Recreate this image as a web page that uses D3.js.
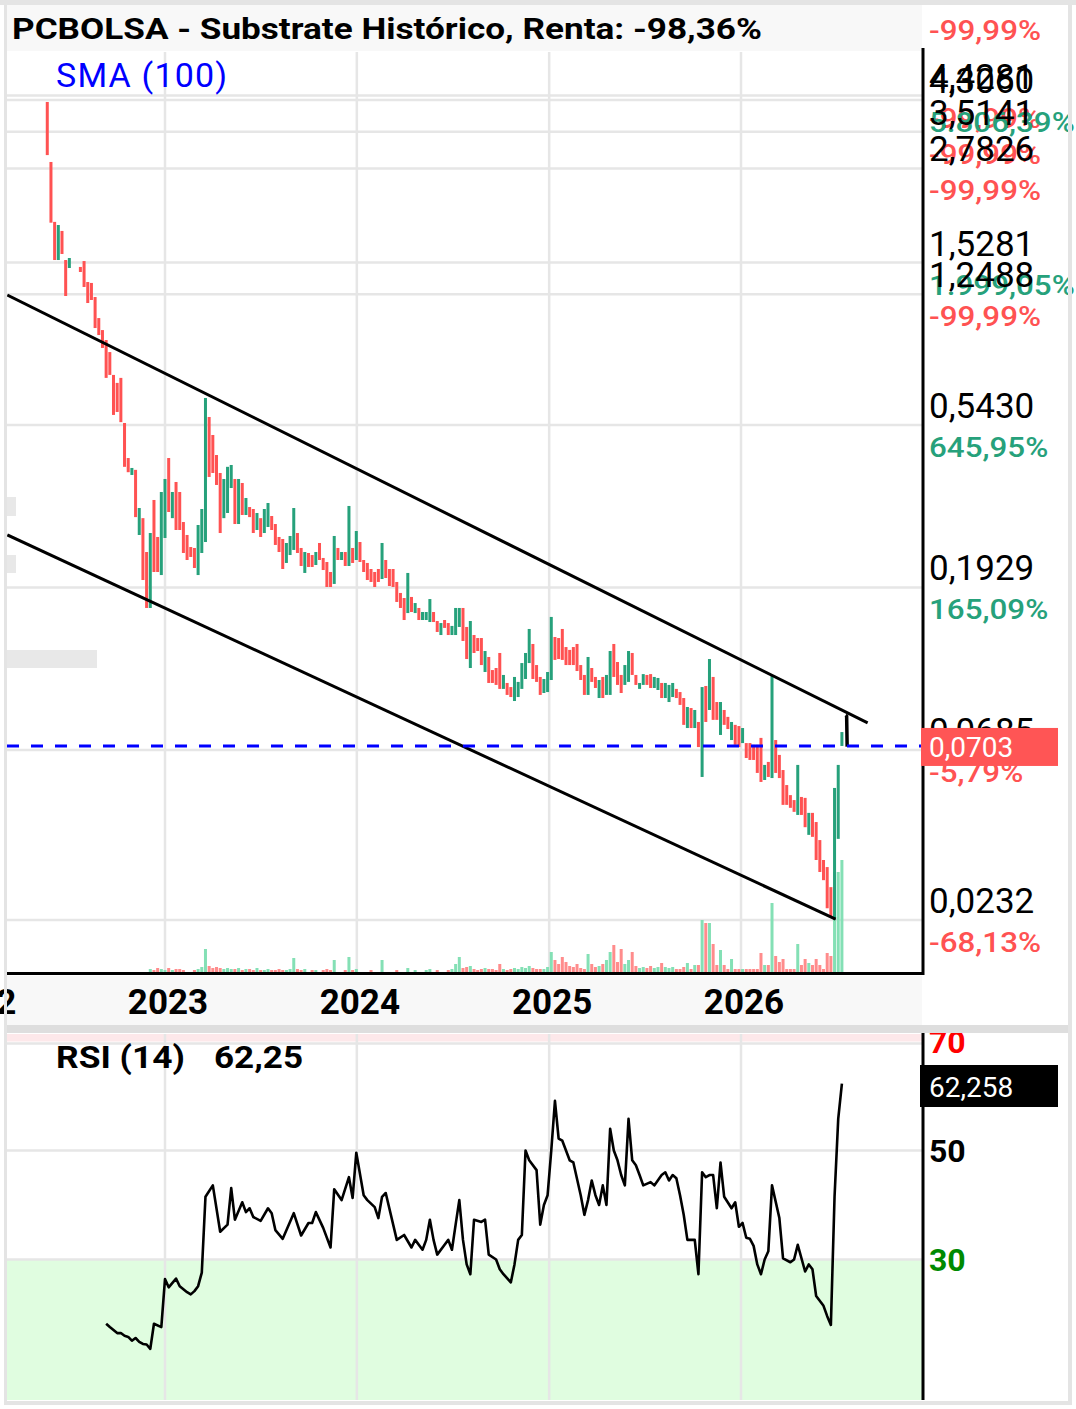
<!DOCTYPE html>
<html>
<head>
<meta charset="utf-8">
<script src="https://cdn.jsdelivr.net/npm/d3@7"></script>
<style>
  body { margin: 0; background: #fff; }
  svg { display: block; }
  text { font-family: Roboto, "Noto Sans", sans-serif; }
</style>
</head>
<body>
<svg id="chart" width="1076" height="1409"></svg>
<script>
// ---- data (weekly candles) ----
const startWeek = "2022-05-22";

const opens = [4.25,2.90,1.98,1.553,1.869,1.553,1.476,null,null,1.486,
  1.543,1.350,1.342,1.227,1.073,0.994,0.933,0.864,0.747,0.710,
  0.733,0.550,0.440,0.395,0.408,0.2695,0.300,0.2418,0.1693,0.3368,
  0.2661,0.2088,0.2644,0.440,0.300,0.3777,0.3544,0.2927,0.2695,0.2496,
  0.2481,0.2088,0.2403,0.2577,0.5714,0.5095,0.4485,0.400,0.300,0.310,
  0.3635,0.385,0.289,0.3753,0.3061,0.322,0.318,0.2782,0.300,0.2729,
  0.2836,0.3041,0.289,0.2661,0.2627,0.2255,0.2372,0.245,0.2729,0.2481,
  0.2116,0.2403,0.2372,0.2226,0.2561,0.2328,0.2269,0.2129,0.1973,0.2481,
  0.2298,0.2418,0.2212,0.2481,0.2298,0.2577,0.2298,0.2255,0.217,0.2129,
  0.217,0.2036,0.2298,0.217,0.217,0.1998,0.1863,0.1804,0.1639,0.1816,
  0.1639,0.1693,0.1568,0.1568,0.1548,0.165,0.1558,0.1425,0.1568,0.1538,
  0.1425,0.1425,0.150,0.1693,0.150,0.1155,0.1425,0.1398,0.1398,0.1126,
  0.1239,0.114,0.1155,0.1271,0.1011,0.105,0.1023,0.0936,0.096,0.1011,
  0.1077,0.1192,0.1346,0.1177,0.1091,0.0985,0.0991,0.107,0.1407,0.1398,
  0.1481,0.132,0.1296,0.132,0.1346,0.1177,0.1105,0.0973,0.1155,0.1091,
  0.0954,0.1091,0.0973,0.0973,0.1346,0.120,0.1105,0.1037,0.1057,0.1271,
  0.1105,0.1011,0.1037,0.1105,0.1111,0.1017,0.1004,0.105,0.0954,0.093,
  0.096,0.1011,0.0991,0.0954,0.0788,0.0895,0.0788,0.0819,0.0577,0.103,
  0.0884,0.1091,0.093,0.0754,0.0884,0.0846,0.073,0.0804,0.0798,0.0716,
  0.0716,0.0716,0.0708,0.0708,0.074,0.0566,0.0635,0.0573,0.073,0.0664,
  0.0603,0.0548,0.0514,0.0498,0.0453,0.0508,0.0505,0.0399,0.0459,0.0433,
  0.0386,0.034,0.0325,0.0286,0.0232,0.0389,0.0703];

const closes = [3.03,1.97,1.553,1.941,1.614,1.235,1.573,null,null,1.439,
  1.308,1.181,1.204,1.007,0.963,0.887,0.733,0.747,0.579,0.590,
  0.553,0.416,0.402,0.413,0.302,0.320,0.2023,0.1693,0.2729,0.2129,
  0.2129,0.3544,0.385,0.312,0.3544,0.2782,0.2782,0.2403,0.2298,0.2343,
  0.2184,0.2872,0.318,0.645,0.390,0.400,0.3706,0.2729,0.385,0.416,
  0.4209,0.289,0.385,0.3061,0.3411,0.302,0.2729,0.310,0.2661,0.318,
  0.3304,0.2782,0.2529,0.2418,0.217,0.2561,0.2678,0.320,0.2403,0.2212,
  0.2418,0.2198,0.2198,0.2418,0.2298,0.2156,0.1935,0.1935,0.2678,0.2298,
  0.2418,0.2212,0.3242,0.2255,0.2764,0.2269,0.2129,0.2023,0.1998,0.1935,
  0.1998,0.2561,0.2049,0.1947,0.1935,0.1759,0.1693,0.1568,0.2116,0.165,
  0.1747,0.1568,0.165,0.165,0.1792,0.1548,0.1453,0.1538,0.1491,0.1425,
  0.151,0.1693,0.1693,0.1372,0.1223,0.1558,0.1271,0.1287,0.1177,0.1287,
  0.105,0.105,0.1037,0.1011,0.1105,0.0973,0.096,0.1091,0.1057,0.1192,
  0.1271,0.1481,0.1077,0.1057,0.0973,0.1077,0.1126,0.1599,0.1216,0.1223,
  0.1216,0.1177,0.1177,0.1177,0.1133,0.107,0.0973,0.1239,0.1057,0.1017,
  0.107,0.0954,0.1105,0.1287,0.1091,0.1037,0.0985,0.1177,0.1287,0.1105,
  0.1037,0.105,0.1111,0.1037,0.1017,0.1091,0.1084,0.0954,0.105,0.1037,
  0.105,0.0954,0.0913,0.0804,0.0901,0.0788,0.0884,0.0698,0.1023,0.0819,
  0.1223,0.083,0.083,0.093,0.0804,0.0783,0.0819,0.0708,0.0698,0.0788,
  0.0651,0.0643,0.0643,0.0592,0.0559,0.0623,0.0577,0.1105,0.0592,0.0573,
  0.0483,0.0483,0.0474,0.0462,0.0623,0.0453,0.0419,0.0459,0.0394,0.034,
  0.0315,0.0299,0.025,0.0237,0.0538,0.0623,0.0768];

const volumes = [0,0,0,0,0,0,0,0,0,0,
  0,0,0,0,0,0,0,0,0,0,
  0,0,0,0,0,0,0,0,3,2,
  4,3,2,4,2,3,3,2,0,0,
  2,3,5,23,6,4,5,4,3,4,
  3,3,4,2,3,3,2,4,2,2,
  3,2,2,3,2,2,3,14,3,2,
  3,0,2,2,0,2,3,2,12,0,
  0,2,15,2,3,0,0,0,2,0,
  0,12,0,0,0,2,0,0,4,0,
  2,0,0,2,3,0,2,0,0,2,
  3,8,15,4,5,6,3,2,3,4,
  3,3,2,8,3,2,3,4,3,5,
  4,6,4,3,3,3,5,20,12,8,
  15,10,6,5,8,4,3,18,8,5,
  6,8,12,20,27,10,23,8,12,20,
  6,4,5,4,6,4,5,9,5,4,
  5,3,3,5,9,3,7,7,52,49,
  49,28,7,22,7,3,13,3,3,3,
  3,3,3,3,19,7,7,69,16,10,
  13,3,3,3,28,7,13,9,7,13,
  7,3,19,16,100,100,112];

// RSI (14): [week index, value]
const rsiPoints = [[16,18.2],[17,17.6],[19,16.5],[20,16.5],[21,16.0],[22,15.8],[23,15.1],[24,15.6],
  [25,14.9],[26,14.5],[27,14.4],[28,13.6],[29,18.2],[31,17.6],[32,26.4],[33,24.9],[35,26.5],[36,25.1],
  [38,24.0],[39,23.6],[40,24.2],[41,25.1],[42,27.6],[43,41.5],[45,43.6],[47,35.1],[49,36.4],[50,43.1],
  [51,37.3],[53,40.5],[54,38.7],[55,39.4],[56,37.8],[58,37.1],[60,39.4],[61,38.5],[62,35.4],[64,33.8],
  [67,38.5],[69,34.4],[71,36.7],[72,36.7],[73,38.7],[75,35.8],[77,32.2],[78,42.9],[80,40.9],[82,45.1],
  [83,41.3],[84,49.6],[86,41.8],[87,40.9],[89,39.6],[90,37.6],[91,41.5],[92,42.2],[95,33.6],[97,34.5],
  [99,32.2],[100,33.6],[102,31.8],[103,33.6],[104,37.3],[105,33.6],[106,30.9],[108,32.7],[109,33.6],
  [110,31.8],[111,36.4],[112,40.9],[113,33.6],[114,29.1],[115,27.3],[116,37.3],[118,36.9],[119,37.3],
  [120,30.9],[122,30.0],[123,28.2],[124,27.3],[126,25.8],[127,29.1],[128,33.6],[129,34.5],[130,50.0],
  [131,48.2],[133,46.4],[134,36.4],[135,40.0],[136,41.8],[137,50.0],[138,59.1],[139,52.2],[140,51.8],
  [141,50.0],[142,48.2],[143,47.8],[145,41.8],[146,38.2],[147,40.9],[148,44.5],[149,41.8],[150,40.0],
  [151,43.6],[152,40.0],[153,54.0],[154,50.0],[155,48.2],[156,45.5],[157,43.6],[158,55.8],[159,48.2],
  [160,47.3],[161,45.5],[162,43.6],[164,44.2],[165,43.6],[167,45.5],[168,46.0],[169,44.5],[170,45.5],
  [171,44.9],[172,41.8],[173,38.2],[174,33.6],[175,33.6],[176,33.6],[177,27.3],[178,46.0],[179,45.1],
  [180,45.5],[181,45.5],[182,39.4],[183,47.8],[184,41.5],[186,39.4],[187,40.5],[188,36.0],[189,36.7],
  [190,34.0],[191,33.8],[192,32.5],[193,29.1],[194,27.3],[195,30.0],[196,31.5],[197,43.6],[199,37.6],
  [200,30.2],[202,29.5],[203,30.0],[204,32.7],[206,27.8],[207,29.1],[208,28.2],[209,23.3],[211,21.5],
  [212,19.6],[213,18.0],[214,41.5],[215,55.8],[216,62.25]];

const priceTicks = [4.4281, 4.3060, 3.5141, 2.7826, 1.5281, 1.2488, 0.5430, 0.1929, 0.0685, 0.0232];
const pctLabels = ["-99,99%", "5.806,39%", "-99,99%", "-99,99%", "1.999,05%", "-99,99%",
  "645,95%", "165,09%", "-5,79%", "-68,13%"];
const headerPct = "-99,99%";
const yearTicks = [2022, 2023, 2024, 2025, 2026];
const rsiTicks = [70, 50, 30];
const rsiTickColors = ["#ff0000", "#000000", "#008a00"];
const lastPrice = 0.0703;
const lastRsi = 62.258;
const rsiHeader = "62,25";

const upperTrend = [["2022-03-07", 1.243], ["2026-08-30", 0.0814]];
const lowerTrend = [["2022-03-07", 0.2695], ["2026-06-30", 0.02333]];
const breakMark = [["2026-07-19", 0.0855], ["2026-07-21", 0.0851], ["2026-07-22", 0.0700]];

const title = "PCBOLSA - Substrate Histórico, Renta: -98,36%";

// ---- layout ----
const svg = d3.select("#chart");
const L = 7, R = 922, T = 52, B = 972;
const RT = 1034, RB = 1400;
const day = 864e5;
const weekDate = i => new Date(Date.parse(startWeek) + i * 7 * day);
const green = "#26a17b", red = "#ff5252";
const gridColor = "#e6e6e6";
const comma = s => s.replace(".", ",");

const x = d3.scaleUtc()
  .domain([Date.UTC(2023, 0, 1), Date.UTC(2026, 0, 1)])
  .range([165, 741]);
const y = d3.scaleLog().domain([0.0232, 0.543]).range([920, 425]);
const vol = d3.scaleLinear().domain([0, d3.max(volumes)]).range([0, 112]);
const ry = d3.scaleLinear().domain([30, 50]).range([1259.5, 1150.5]);

function stretch(sel, k) {
  sel.each(function () {
    const w = this.getComputedTextLength();
    d3.select(this).attr("textLength", w * k).attr("lengthAdjust", "spacingAndGlyphs");
  });
}

const defs = svg.append("defs");
defs.append("clipPath").attr("id", "plot")
  .append("rect").attr("x", L).attr("y", T).attr("width", R - L).attr("height", B - T);
defs.append("clipPath").attr("id", "rsiClip")
  .append("rect").attr("x", L).attr("y", RT).attr("width", R - L).attr("height", RB - RT);

// title bar
svg.append("rect").attr("x", L).attr("y", 5).attr("width", R - L).attr("height", 46).attr("fill", "#f8f8f8");
svg.append("text").attr("x", 12).attr("y", 39)
  .attr("font-size", 29).attr("font-weight", "bold").attr("fill", "#000")
  .attr("textLength", 750).attr("lengthAdjust", "spacingAndGlyphs")
  .text(title);
stretch(svg.append("text").attr("x", 929).attr("y", 40)
  .attr("font-size", 28).attr("font-weight", 500).attr("fill", red).text(headerPct), 1.12);

// main grid
const main = svg.append("g").attr("clip-path", "url(#plot)");
main.selectAll(".hg").data(priceTicks).join("line")
  .attr("x1", L).attr("x2", R).attr("y1", d => y(d)).attr("y2", d => y(d))
  .attr("stroke", gridColor).attr("stroke-width", 2.5);
main.selectAll(".vg").data(yearTicks).join("line")
  .attr("x1", d => x(Date.UTC(d, 0, 1))).attr("x2", d => x(Date.UTC(d, 0, 1)))
  .attr("y1", T).attr("y2", B)
  .attr("stroke", gridColor).attr("stroke-width", 2.5);

// stray grey legend remnants on the left edge
main.append("rect").attr("x", L).attr("y", 497).attr("width", 9).attr("height", 19).attr("fill", "#e8e8e8");
main.append("rect").attr("x", L).attr("y", 555).attr("width", 9).attr("height", 18).attr("fill", "#e8e8e8");
main.append("rect").attr("x", L).attr("y", 650).attr("width", 90).attr("height", 18).attr("fill", "#e8e8e8");

const candles = opens.map((o, i) => ({ i, o, c: closes[i], v: volumes[i] })).filter(d => d.o != null);

// volume
main.selectAll(".vol").data(candles.filter(d => d.v > 0)).join("rect")
  .attr("x", d => x(weekDate(d.i)) - 1.5)
  .attr("width", 3)
  .attr("y", d => B - vol(d.v))
  .attr("height", d => vol(d.v))
  .attr("fill", d => d.c >= d.o ? "#84e0b5" : "#ff8c8c");

// candles
main.selectAll(".cdl").data(candles).join("rect")
  .attr("x", d => x(weekDate(d.i)) - 1.5)
  .attr("width", 3)
  .attr("y", d => y(Math.max(d.o, d.c)))
  .attr("height", d => Math.max(1.5, y(Math.min(d.o, d.c)) - y(Math.max(d.o, d.c))))
  .attr("fill", d => d.c >= d.o ? green : red);

// trend lines
const tl = d3.line().x(d => x(new Date(d[0]))).y(d => y(d[1]));
[upperTrend, lowerTrend].forEach(t => {
  main.append("path").attr("d", tl(t)).attr("fill", "none").attr("stroke", "#000").attr("stroke-width", 3);
});
main.append("path").attr("d", tl(breakMark)).attr("fill", "none")
  .attr("stroke", "#000").attr("stroke-width", 3.5).attr("stroke-linejoin", "round");

// last price line
main.append("line").attr("x1", L).attr("x2", R).attr("y1", y(lastPrice)).attr("y2", y(lastPrice))
  .attr("stroke", "#0000ff").attr("stroke-width", 3).attr("stroke-dasharray", "12,12");

// SMA legend
svg.append("text").attr("x", 56).attr("y", 87).attr("font-size", 34).attr("fill", "#0000ff")
  .attr("letter-spacing", 1.2).text("SMA (100)");

// axes lines
svg.append("line").attr("x1", 923).attr("x2", 923).attr("y1", 48).attr("y2", 975)
  .attr("stroke", "#000").attr("stroke-width", 3);
svg.append("line").attr("x1", L).attr("x2", 923).attr("y1", 973.5).attr("y2", 973.5)
  .attr("stroke", "#000").attr("stroke-width", 3);

// right price labels
priceTicks.forEach((t, i) => {
  const g = y(t);
  svg.append("text").attr("x", 929).attr("y", g - 7).attr("font-size", 35).attr("fill", "#000")
    .text(comma(d3.format(".4f")(t)));
  const p = svg.append("text").attr("x", 929).attr("y", g + 32).attr("font-size", 28).attr("font-weight", 500)
    .attr("fill", pctLabels[i].startsWith("-") ? red : green).text(pctLabels[i]);
  stretch(p, 1.12);
});

// last price box
svg.append("rect").attr("x", 921).attr("y", y(lastPrice) - 18).attr("width", 137).attr("height", 38)
  .attr("fill", "#ff5555");
svg.append("text").attr("x", 929).attr("y", y(lastPrice) + 11).attr("font-size", 28).attr("fill", "#fff")
  .text(comma(d3.format(".4f")(lastPrice)));

// x axis band
svg.append("rect").attr("x", L).attr("y", 976).attr("width", R - L).attr("height", 49).attr("fill", "#f8f8f8");
svg.selectAll(".yr").data(yearTicks).join("text")
  .attr("x", d => x(Date.UTC(d, 0, 1)) + 3).attr("y", 1014)
  .attr("text-anchor", "middle").attr("font-size", 35).attr("font-weight", "bold").attr("fill", "#000")
  .text(d => d);

// ---- RSI panel ----
const rsi = svg.append("g").attr("clip-path", "url(#rsiClip)");
rsi.append("rect").attr("x", L).attr("y", RT).attr("width", R - L).attr("height", ry(70) - RT).attr("fill", "#fde8ea");
rsi.append("rect").attr("x", L).attr("y", ry(30)).attr("width", R - L).attr("height", RB - ry(30)).attr("fill", "#e0fde0");
rsi.selectAll(".rg").data(rsiTicks).join("line")
  .attr("x1", L).attr("x2", R).attr("y1", d => ry(d) + (d === 70 ? 2 : 0)).attr("y2", d => ry(d) + (d === 70 ? 2 : 0))
  .attr("stroke", gridColor).attr("stroke-width", 2.5);
rsi.selectAll(".rv").data(yearTicks).join("line")
  .attr("x1", d => x(Date.UTC(d, 0, 1))).attr("x2", d => x(Date.UTC(d, 0, 1)))
  .attr("y1", RT).attr("y2", RB).attr("stroke", gridColor).attr("stroke-width", 2.5);
rsi.append("path")
  .attr("d", d3.line().x(d => x(weekDate(d[0]))).y(d => ry(d[1]))(rsiPoints))
  .attr("fill", "none").attr("stroke", "#000").attr("stroke-width", 2.6).attr("stroke-linejoin", "round");

svg.append("text").attr("x", 56).attr("y", 1068).attr("font-size", 32).attr("font-weight", "bold")
  .attr("textLength", 129).attr("lengthAdjust", "spacingAndGlyphs").text("RSI (14)");
svg.append("text").attr("x", 214).attr("y", 1068).attr("font-size", 32).attr("font-weight", "bold")
  .attr("textLength", 89).attr("lengthAdjust", "spacingAndGlyphs").text(rsiHeader);

svg.append("line").attr("x1", 923).attr("x2", 923).attr("y1", 1033).attr("y2", RB)
  .attr("stroke", "#000").attr("stroke-width", 3);
svg.selectAll(".rt").data(rsiTicks).join("text")
  .attr("x", 929).attr("y", d => ry(d) + 11).attr("font-size", 32).attr("font-weight", "bold")
  .attr("fill", (d, i) => rsiTickColors[i]).text(d => d);
svg.append("rect").attr("x", 920).attr("y", 1065).attr("width", 138).attr("height", 42).attr("fill", "#000");
svg.append("text").attr("x", 929).attr("y", 1097).attr("font-size", 28).attr("fill", "#fff")
  .text(comma(d3.format(".3f")(lastRsi)));

// separator between panels and frame
svg.append("rect").attr("x", 4).attr("y", 1025).attr("width", 1068).attr("height", 8).attr("fill", "#dedede");
svg.append("rect").attr("x", 0).attr("y", 0).attr("width", 1076).attr("height", 5).attr("fill", "#e4e4e4");
svg.append("rect").attr("x", 4).attr("y", 0).attr("width", 3).attr("height", 1405).attr("fill", "#e4e4e4");
svg.append("rect").attr("x", 1068).attr("y", 0).attr("width", 4).attr("height", 1405).attr("fill", "#e4e4e4");
svg.append("rect").attr("x", 4).attr("y", 1401).attr("width", 1068).attr("height", 4).attr("fill", "#e4e4e4");
</script>
</body>
</html>
